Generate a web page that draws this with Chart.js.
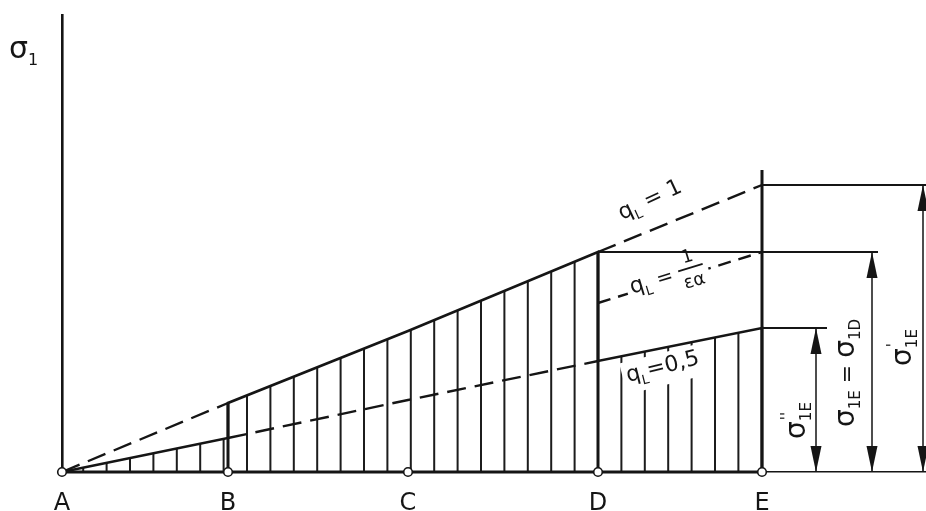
<!DOCTYPE html>
<html><head><meta charset="utf-8">
<script src="https://cdn.jsdelivr.net/npm/chart.js@4.4.1/dist/chart.umd.min.js"></script>
<style>html,body{margin:0;padding:0;background:#fff}#wrap{width:926px;height:511px;position:relative}</style>
</head><body><div id="wrap"><canvas id="c"></canvas></div>
<script>
// ---- data (x: distance along the span, y: stress σ1) ----
const stations = ['A', 'B', 'C', 'D', 'E'];
const stationX = [0, 166, 346, 536, 700];
const sigmaQ1 = [0, 69, 141, 220, 287];          // q_L = 1
const sigmaQ05 = [0, 34, 72, 111, 144];          // q_L = 0,5
const sigmaQeps = [null, null, null, 169, 220];  // q_L = 1/ε_α
const sigmaETop = 302;                           // top of the vertical at E
const dimValues = [144, 220, 287];               // σ''1E, σ1E = σ1D, σ'1E

// ---- geometry / layout (not data) ----
const geom = {
  xMax: 864, yMax: 457,
  dimX: [754, 810, 861],
  extFrom: [4, 3, 4],
  extEnd: [765, 816, 864]
};
const INK = '#151515';
const FONT = '"DejaVu Sans", sans-serif';
const fnt = s => `${s}px ${FONT}`;

const P = (x, y) => ({x, y});
const brk = x => ({x, y: null});

function hatchPattern() {
  const c = document.createElement('canvas');
  c.width = 234; c.height = 8;
  const g = c.getContext('2d');
  g.fillStyle = '#1c1c1c';
  for (let i = 0; i < 10; i++) g.fillRect(13 + i * 23.4 - 1, 0, 2, 8);
  return g.createPattern(c, 'repeat');
}

const hatchData = [
  P(stationX[0], 0),
  P(stationX[1], sigmaQ05[1]), P(stationX[1], sigmaQ1[1]),
  P(stationX[2], sigmaQ1[2]), P(stationX[3], sigmaQ1[3]),
  P(stationX[3], sigmaQ05[3]), P(stationX[4], sigmaQ05[4]),
  P(stationX[4], 0)
];
const verticals = [
  P(stationX[1], 0), P(stationX[1], sigmaQ1[1]), brk(stationX[1]),
  P(stationX[3], 0), P(stationX[3], sigmaQ1[3]), brk(stationX[3]),
  P(stationX[4], 0), P(stationX[4], sigmaETop)
];
const horizontals = [];
dimValues.forEach((v, i) => {
  horizontals.push(P(stationX[geom.extFrom[i]], v), P(geom.extEnd[i], v), brk(geom.extEnd[i]));
});
const dimLines = [];
dimValues.forEach((v, i) => { dimLines.push(P(geom.dimX[i], 0), P(geom.dimX[i], v), brk(geom.dimX[i])); });

const base = {pointRadius: 0, clip: false, tension: 0, fill: false, borderColor: INK, spanGaps: false};
const DASH = [19, 9];

const datasets = [
  {...base, data: stationX.map(x => P(x, 0)), showLine: false, pointRadius: 4.3,
    pointBackgroundColor: '#fff', pointBorderColor: INK, pointBorderWidth: 1.6},
  {...base, data: dimLines, borderWidth: 1.5},
  {...base, data: horizontals, borderWidth: 1.8},
  {...base, data: verticals, borderWidth: 3},
  {...base, data: [P(stationX[0], 0), P(stationX[4], 0)], borderWidth: 3.2},
  {...base, data: [P(stationX[0], sigmaQ1[0]), P(stationX[1], sigmaQ1[1])], borderWidth: 2.4, borderDash: DASH},
  {...base, data: [P(stationX[3], sigmaQ1[3]), P(stationX[4], sigmaQ1[4])], borderWidth: 2.4, borderDash: DASH},
  {...base, data: [1, 2, 3].map(i => P(stationX[i], sigmaQ05[i])), borderWidth: 2.4, borderDash: DASH},
  {...base, data: [3, 4].map(i => P(stationX[i], sigmaQeps[i])), borderWidth: 2.4, borderDash: [13, 8]},
  {...base, data: hatchData, borderWidth: 2.6, fill: 'origin', backgroundColor: hatchPattern()}
];

// ---- rich text helpers ----
function partW(ctx, p) {
  ctx.font = fnt(p.size);
  if (p.frac) return Math.max(ctx.measureText(p.num).width, ctx.measureText(p.den).width) + 4;
  if (p.stack) return Math.max(ctx.measureText(p.sub).width, ctx.measureText(p.sup).width) + 1;
  return ctx.measureText(p.t).width + (p.gap || 0);
}
function richW(ctx, parts) { return parts.reduce((s, p) => s + partW(ctx, p), 0); }
function drawRich(ctx, parts, x0, y0) {
  let x = x0;
  ctx.textAlign = 'left'; ctx.textBaseline = 'alphabetic';
  for (const p of parts) {
    const w = partW(ctx, p);
    ctx.font = fnt(p.size);
    if (p.frac) {
      ctx.textAlign = 'center';
      ctx.fillText(p.num, x + w / 2, y0 - 14);
      ctx.fillText(p.den, x + w / 2, y0 + 11);
      ctx.textAlign = 'left';
      ctx.fillRect(x, y0 - 9, w, 1.8);
    } else if (p.stack) {
      ctx.fillText(p.sup, x + 1, y0 - 13);
      ctx.fillText(p.sub, x, y0 + 6);
    } else {
      ctx.fillText(p.t, x, y0 + (p.dy || 0));
    }
    x += w;
  }
  return x - x0;
}

const lineLabels = [
  {x: 560, y: 252, rot: -25, parts: [{t: 'q', size: 22}, {t: 'L', size: 13, dy: 6}, {t: ' = 1', size: 22}]},
  {x: 550, y: 172, rot: -17, start: 21, box: [17, -9, 16], parts: [{t: 'q', size: 22}, {t: 'L', size: 13, dy: 6}, {t: ' = ', size: 20}, {frac: true, num: '1', den: 'εα', size: 18}]},
  {x: 566, y: 90, rot: -14, start: 0, box: [-4, -20, 32], parts: [{t: 'q', size: 22}, {t: 'L', size: 13, dy: 6}, {t: '=0,5', size: 22}]}
];
const dimLabelParts = [
  [{t: 'σ', size: 28}, {stack: true, sup: "''", sub: '1E', size: 15}],
  [{t: 'σ', size: 28}, {t: '1E', size: 15, dy: 6}, {t: ' = ', size: 22}, {t: 'σ', size: 28}, {t: '1D', size: 15, dy: 6}],
  [{t: 'σ', size: 28}, {stack: true, sup: "'", sub: '1E', size: 15}]
];
const dimLabelPos = [P(735, 52), P(784, 99), P(841, 125)];

const annot = {
  id: 'annot',
  afterDatasetsDraw(chart) {
    const {ctx, chartArea, scales: {x: xs, y: ys}} = chart;
    ctx.save();
    ctx.fillStyle = INK; ctx.strokeStyle = INK;
    // arrow heads of the dimension lines
    dimValues.forEach((v, i) => {
      const px = xs.getPixelForValue(geom.dimX[i]);
      const top = ys.getPixelForValue(v), bot = ys.getPixelForValue(0);
      const L = 26, H = 5.5;
      ctx.beginPath(); ctx.moveTo(px, top); ctx.lineTo(px - H, top + L); ctx.lineTo(px + H, top + L); ctx.closePath(); ctx.fill();
      ctx.beginPath(); ctx.moveTo(px, bot); ctx.lineTo(px - H, bot - L); ctx.lineTo(px + H, bot - L); ctx.closePath(); ctx.fill();
    });
    // station letters
    ctx.font = fnt(24); ctx.textAlign = 'center'; ctx.textBaseline = 'alphabetic';
    stations.forEach((s, i) => ctx.fillText(s, xs.getPixelForValue(stationX[i]), chartArea.bottom + 38));
    // axis symbol σ1
    ctx.textAlign = 'left';
    ctx.font = fnt(30); ctx.fillText('σ', chartArea.left - 53, chartArea.top + 43);
    ctx.font = fnt(16); ctx.fillText('1', chartArea.left - 34, chartArea.top + 50);
    // labels along the lines
    lineLabels.forEach(l => {
      ctx.save();
      ctx.translate(xs.getPixelForValue(l.x), ys.getPixelForValue(l.y));
      ctx.rotate(l.rot * Math.PI / 180);
      if (l.box) {
        const w = richW(ctx, l.parts);
        ctx.fillStyle = '#fff';
        ctx.fillRect(l.box[0], l.box[1], l.start + w + 4 - l.box[0], l.box[2]);
        ctx.fillStyle = INK;
      }
      drawRich(ctx, l.parts, l.start || 0, 0);
      ctx.restore();
    });
    // dimension labels (rotated, reading bottom to top)
    dimLabelParts.forEach((parts, i) => {
      ctx.save();
      ctx.translate(xs.getPixelForValue(dimLabelPos[i].x), ys.getPixelForValue(dimLabelPos[i].y));
      ctx.rotate(-Math.PI / 2);
      const w = richW(ctx, parts);
      drawRich(ctx, parts, -w / 2, 8);
      ctx.restore();
    });
    ctx.restore();
  }
};

new Chart(document.getElementById('c'), {
  type: 'line',
  data: {datasets},
  options: {
    responsive: true, maintainAspectRatio: false, animation: false, devicePixelRatio: 1,
    layout: {autoPadding: false, padding: {left: 62, top: 15, right: 0, bottom: 39}},
    plugins: {legend: {display: false}, tooltip: {enabled: false}},
    scales: {
      x: {type: 'linear', min: 0, max: geom.xMax, grid: {display: false, drawTicks: false}, ticks: {display: false},
        border: {display: true, color: INK, width: 1.6}},
      y: {type: 'linear', min: 0, max: geom.yMax, grid: {display: false, drawTicks: false}, ticks: {display: false},
        border: {display: true, color: INK, width: 2.6}}
    }
  },
  plugins: [annot]
});
</script></body></html>
